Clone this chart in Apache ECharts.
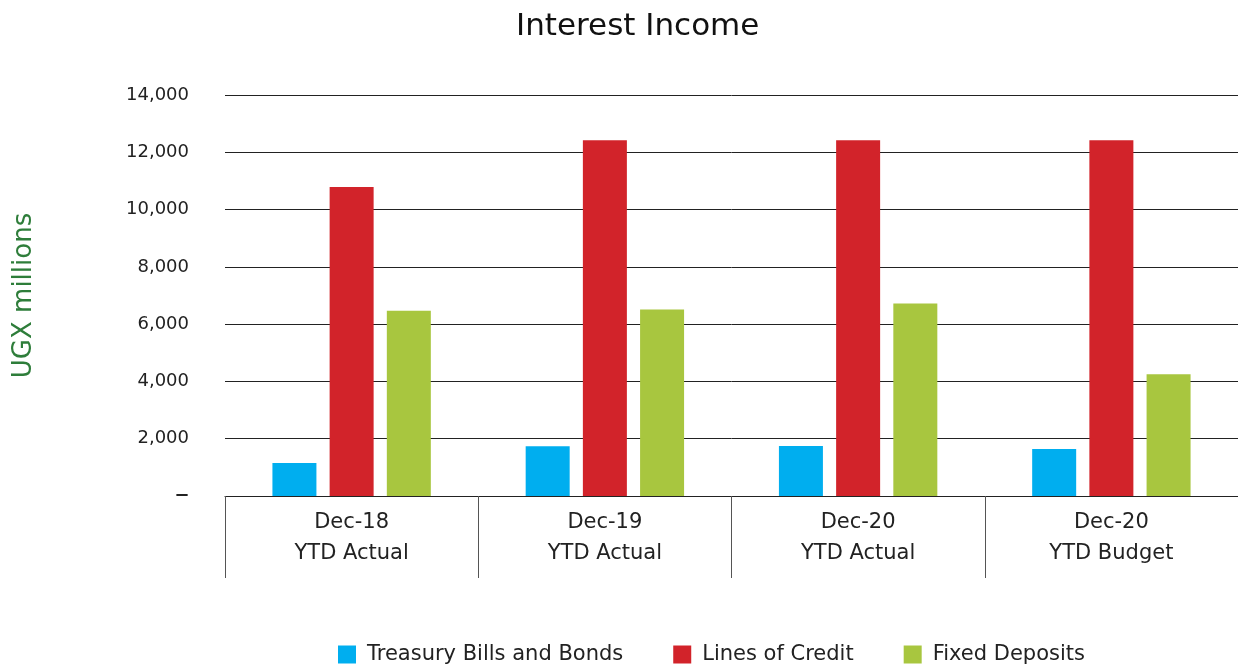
<!DOCTYPE html>
<html><head><meta charset="utf-8">
<script src="https://cdn.jsdelivr.net/npm/echarts@6/dist/echarts.min.js"></script>
<style>html,body{margin:0;padding:0;background:#fff}#c{width:1238px;height:666px}</style>
</head><body><div id="c"></div>
<script>
const categories = ['Dec-18\nYTD Actual', 'Dec-19\nYTD Actual', 'Dec-20\nYTD Actual', 'Dec-20\nYTD Budget'];
const treasury = [1150, 1740, 1750, 1640];
const linesOfCredit = [10790, 12420, 12420, 12420];
const fixedDeposits = [6470, 6510, 6720, 4250];
const yTicks = [0, 2000, 4000, 6000, 8000, 10000, 12000, 14000];

const font = '"DejaVu Sans", sans-serif';
const chart = echarts.init(document.getElementById('c'));
chart.setOption({
  animation: false,
  title: { text: 'Interest Income', left: 511, top: 6,
    textStyle: { fontFamily: font, fontSize: 31, fontWeight: 'normal', color: '#111' } },
  legend: { left: 338, top: 644, padding: 0, itemWidth: 18, itemHeight: 18, itemGap: 50, icon: 'rect',
    textStyle: { fontFamily: font, fontSize: 21, color: '#222', padding: [0, 0, 0, 6] } },
  grid: { left: 225, right: 0, top: 95, bottom: 170 },
  xAxis: { type: 'category', data: categories,
    axisLine: { lineStyle: { color: '#222', width: 1 } },
    axisTick: { show: true, length: 82, interval: 0, lineStyle: { color: '#555' } },
    axisLabel: { fontFamily: font, fontSize: 21, color: '#222', lineHeight: 31, margin: 11 } },
  yAxis: { type: 'value', min: 0, max: 14000, interval: 2000,
    name: 'UGX millions', nameLocation: 'middle', nameGap: 188, nameRotate: 90,
    nameTextStyle: { fontFamily: font, fontSize: 26, color: '#2e7d3a' },
    axisLine: { show: false }, axisTick: { show: false },
    splitLine: { lineStyle: { color: '#222', width: 1 } },
    axisLabel: { fontFamily: font, fontSize: 18, color: '#222', margin: 36,
      formatter: v => v === 0 ? '{d|–}' : v.toLocaleString('en-US'),
      rich: { d: { fontFamily: font, fontSize: 28, color: '#222' } } } },
  series: [
    { name: 'Treasury Bills and Bonds', type: 'bar', data: treasury, barWidth: 44, barGap: '30%', itemStyle: { color: '#00AEEF' } },
    { name: 'Lines of Credit', type: 'bar', data: linesOfCredit, barWidth: 44, barGap: '30%', itemStyle: { color: '#D2232A' } },
    { name: 'Fixed Deposits', type: 'bar', data: fixedDeposits, barWidth: 44, barGap: '30%', itemStyle: { color: '#A8C63F' } }
  ]
});
</script></body></html>
